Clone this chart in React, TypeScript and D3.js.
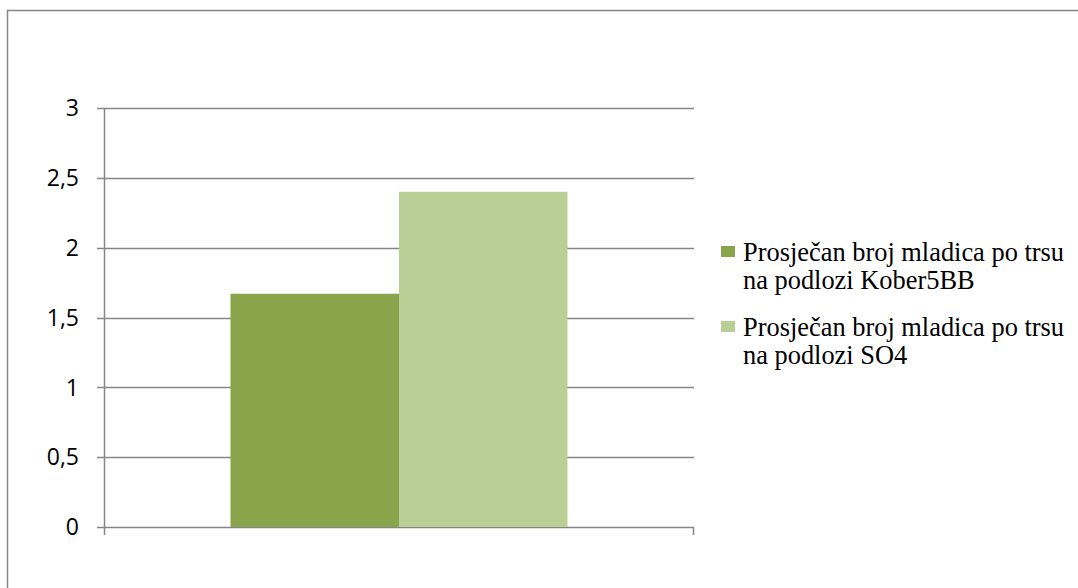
import React from "react";
import * as d3 from "d3";

const categories = [""];
const seriesNames = [
  ["Prosječan broj mladica po trsu", "na podlozi Kober5BB"],
  ["Prosječan broj mladica po trsu", "na podlozi SO4"],
];
const seriesValues = [1.67, 2.4];
const seriesColors = ["#88A54C", "#B9CF96"];
const yTicks = [0, 0.5, 1, 1.5, 2, 2.5, 3];
const yTickLabels = ["0", "0,5", "1", "1,5", "2", "2,5", "3"];

export default function App() {
  const W = 1078, H = 588;
  const left = 104, right = 694, top = 108, bottom = 527;
  const y = d3.scaleLinear().domain([0, 3]).range([bottom, top]);
  const x0 = d3.scaleBand<string>().domain(categories).range([left, right]).paddingInner(0).paddingOuter(0.3754);
  const x1 = d3.scaleBand<number>().domain(seriesValues.map((_, i) => i)).range([0, x0.bandwidth()]).padding(0);
  const grid = "#868686";
  return (
    <svg width={W} height={H} style={{ position: "absolute", left: 0, top: 0 }}>
      <rect x={7.5} y={10.5} width={1200} height={700} fill="#fff" stroke={grid} strokeWidth={1.5} />
      {yTicks.map((t, i) => (
        <g key={i}>
          <line x1={97} x2={right} y1={Math.round(y(t)) + 0.5} y2={Math.round(y(t)) + 0.5} stroke={grid} strokeWidth={1.5} />
          <text x={79} y={y(t)} dy="0.36em" textAnchor="end" fontFamily="'Open Sans', 'Liberation Sans', sans-serif" fontSize={23} fill="#000">
            {yTickLabels[i]}
          </text>
        </g>
      ))}
      {categories.map((c) => (
        <g key={c}>
          {seriesValues.map((v, i) => (
            <rect key={i} x={(x0(c) ?? 0) + (x1(i) ?? 0)} y={y(v)} width={x1.bandwidth()} height={y(0) - y(v)} fill={seriesColors[i]} />
          ))}
        </g>
      ))}
      <line x1={left + 0.5} x2={left + 0.5} y1={top} y2={bottom + 8} stroke={grid} strokeWidth={1.5} />
      <line x1={right - 0.5} x2={right - 0.5} y1={bottom} y2={bottom + 8} stroke={grid} strokeWidth={1.5} />
      {seriesNames.map((lines, i) => {
        const by = 261 + i * 75;
        return (
          <g key={i}>
            <rect x={721} y={by - 15} width={14} height={11} fill={seriesColors[i]} />
            {lines.map((l, j) => (
              <text key={j} x={743} y={by + j * 28} fontFamily="'Liberation Serif', 'Times New Roman', serif" fontSize={26.4} fill="#000">
                {l}
              </text>
            ))}
          </g>
        );
      })}
    </svg>
  );
}
